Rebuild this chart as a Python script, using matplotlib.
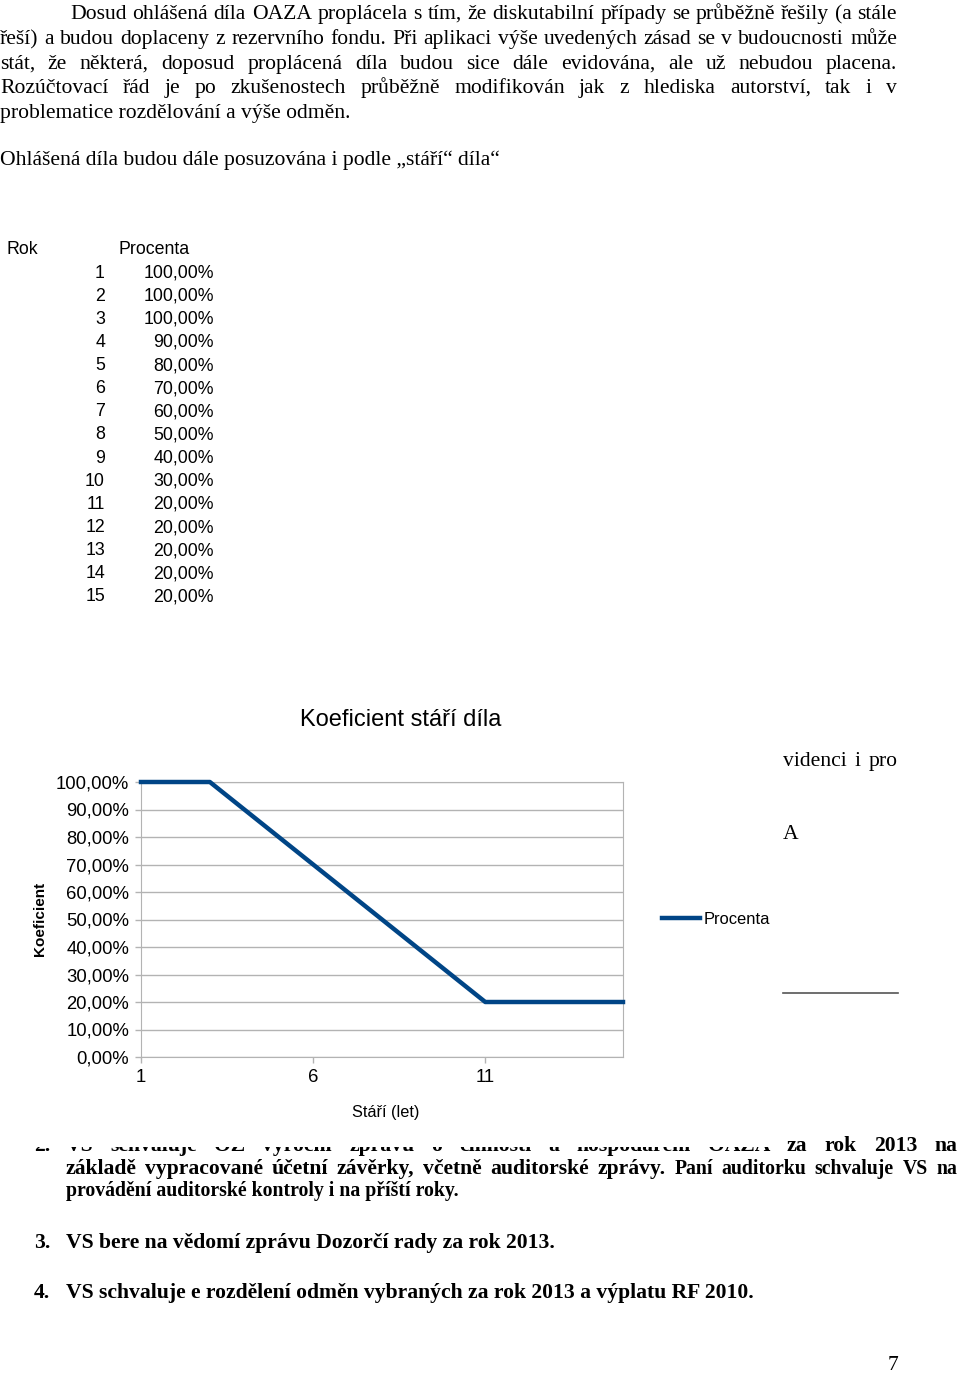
import matplotlib
matplotlib.use('Agg')
import matplotlib.pyplot as plt
from matplotlib.patches import Rectangle
from matplotlib.ticker import FuncFormatter

plt.rcParams['font.family'] = ['Liberation Sans', 'DejaVu Sans']

W, H = 960, 1374

# data
roky = list(range(1, 16))
procenta = [1.0, 1.0, 1.0, 0.9, 0.8, 0.7, 0.6, 0.5, 0.4, 0.3, 0.2, 0.2, 0.2, 0.2, 0.2]
x_ticks = [1, 6, 11]
y_ticks = [0.0, 0.1, 0.2, 0.3, 0.4, 0.5, 0.6, 0.7, 0.8, 0.9, 1.0]

odstavec = [
    'Dosud ohlášená díla OAZA proplácela s tím, že diskutabilní případy se průběžně řešily (a stále',
    'řeší) a budou doplaceny z rezervního fondu. Při aplikaci výše uvedených zásad se v budoucnosti může',
    'stát, že některá, doposud proplácená díla budou sice dále evidována, ale už nebudou placena.',
    'Rozúčtovací řád je po zkušenostech průběžně modifikován jak z hlediska autorství, tak i v',
]
posledni_radek = 'problematice rozdělování a výše odměn.'
uvod_tabulky = 'Ohlášená díla budou dále posuzována i podle „stáří“ díla“'

bod2 = 'VS schvaluje OZ výroční zprávu o činnosti a hospodaření OAZA za rok 2013 na'
bod2_a = 'základě vypracované účetní závěrky, včetně auditorské zprávy.'
bod2_b = 'Paní auditorku schvaluje VS na'
bod2_c = 'provádění auditorské kontroly i na příští roky.'
bod3 = 'VS bere na vědomí zprávu Dozorčí rady za rok 2013.'
bod4 = 'VS schvaluje e rozdělení odměn vybraných za rok 2013 a výplatu RF 2010.'

SERIF = 'Liberation Serif'
BODY = 15.6
SMALL = 14.2


def fx(x):
    return x / W


def fy(y):
    return 1 - y / H


fig = plt.figure(figsize=(W / 100, H / 100), dpi=100)
renderer = fig.canvas.get_renderer()


def justify(words, x0, x1, y, **kw):
    texts = []
    for w, s in words:
        texts.append(fig.text(0, fy(y), w, fontsize=s, va='baseline', family=SERIF, **kw))
    widths = [t.get_window_extent(renderer).width for t in texts]
    gap = (x1 - x0 - sum(widths)) / max(len(texts) - 1, 1)
    x = x0
    for t, w in zip(texts, widths):
        t.set_x(fx(x))
        x += w + gap


# body text
baselines = [19, 44, 69, 93]
for i, line in enumerate(odstavec):
    x0 = 70 if i == 0 else 0
    justify([(w, BODY) for w in line.split()], x0, 897, baselines[i])
fig.text(0, fy(118), posledni_radek, fontsize=BODY, family=SERIF, va='baseline')
fig.text(0, fy(165), uvod_tabulky, fontsize=BODY, family=SERIF, va='baseline')

# table
fig.text(fx(7), fy(250), 'Rok', fontsize=12.8, va='center')
fig.text(fx(118), fy(250), 'Procenta', fontsize=12.8, va='center')
for i, (r, p) in enumerate(zip(roky, procenta)):
    y = 273 + i * 23.14
    fig.text(fx(105), fy(y), str(r), fontsize=12.8, va='center', ha='right')
    fig.text(fx(214), fy(y), f'{p * 100:.2f}'.replace('.', ',') + '%', fontsize=12.8, va='center', ha='right')

# text partly hidden behind the chart
justify([(w, BODY) for w in 'videnci i pro'.split()], 783, 898, 766)
fig.text(fx(783), fy(839), 'A', fontsize=BODY, family=SERIF, va='baseline')
fig.add_artist(plt.Line2D([fx(783), fx(898)], [fy(993), fy(993)], color='#555555', lw=1.2))

fig.text(fx(34), fy(1151), '2.', fontsize=BODY, family=SERIF, weight='bold', va='baseline')
justify([(w, BODY) for w in bod2.split()], 66, 957, 1151, weight='bold')
justify([(w, BODY) for w in bod2_a.split()] + [(w, SMALL) for w in bod2_b.split()], 66, 957, 1174, weight='bold')
fig.text(fx(66), fy(1196), bod2_c, fontsize=SMALL, family=SERIF, weight='bold', va='baseline')
fig.text(fx(34), fy(1248), '3.', fontsize=BODY, family=SERIF, weight='bold', va='baseline')
fig.text(fx(66), fy(1248), bod3, fontsize=BODY, family=SERIF, weight='bold', va='baseline')
fig.text(fx(34), fy(1298), '4.', fontsize=BODY, family=SERIF, weight='bold', va='baseline')
fig.text(fx(66), fy(1298), bod4, fontsize=BODY, family=SERIF, weight='bold', va='baseline')
fig.text(fx(898), fy(1370), '7', fontsize=BODY, family=SERIF, va='baseline', ha='right')

# chart (white picture over the text)
fig.add_artist(Rectangle((fx(5), fy(1147)), fx(782) - fx(5), (1147 - 695) / H,
                         transform=fig.transFigure, facecolor='white', edgecolor='none', zorder=4))

ax = fig.add_axes([fx(141), fy(1057), fx(623) - fx(141), (1057 - 782) / H], zorder=5)
ax.plot(roky, procenta, color='#004586', lw=3.2, clip_on=False, label='Procenta', zorder=3)
ax.set_xlim(1, 15)
ax.set_ylim(0, 1)
ax.set_xticks(x_ticks)
ax.set_yticks(y_ticks)
ax.yaxis.set_major_formatter(FuncFormatter(lambda v, p: f'{v * 100:.2f}'.replace('.', ',') + '%'))
ax.grid(axis='y', color='#b3b3b3', lw=1)
ax.set_axisbelow(True)
for s in ax.spines.values():
    s.set_color('#b3b3b3')
ax.tick_params(colors='#b3b3b3', labelcolor='black', length=4, width=1, labelsize=13.3)
ax.tick_params(axis='y', pad=4.5)
ax.tick_params(axis='x', pad=5)

fig.text(fx(401), fy(720), 'Koeficient stáří díla', fontsize=17, ha='center', va='center', zorder=6)
fig.text(fx(40), fy(919), 'Koeficient', fontsize=11, weight='bold', rotation=90,
         ha='center', va='center', zorder=6)
fig.text(fx(386), fy(1112), 'Stáří (let)', fontsize=11.7, ha='center', va='center', zorder=6)
ax.legend(loc='center left', bbox_to_anchor=(fx(662), fy(919)), bbox_transform=fig.transFigure,
          frameon=False, borderpad=0, borderaxespad=0, handlelength=2.3, handletextpad=0.22,
          fontsize=11.9)

fig.savefig('out.png', dpi=100)
